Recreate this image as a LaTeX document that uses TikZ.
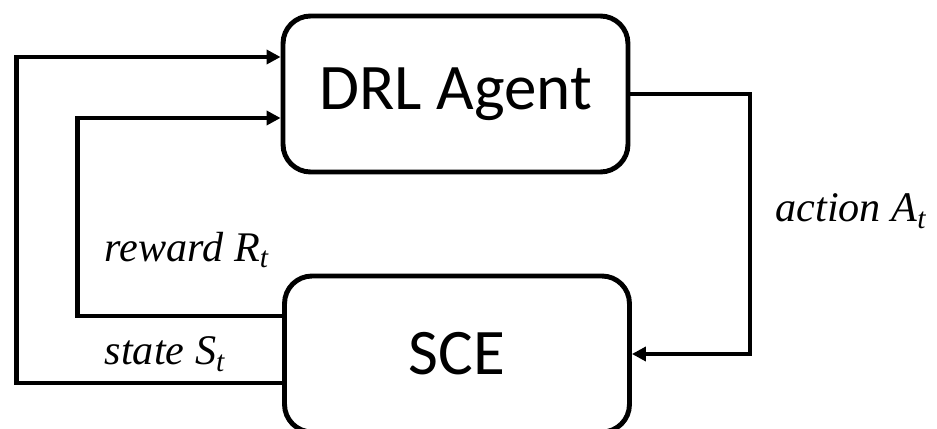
\documentclass[tikz,border=0pt]{standalone}
\usepackage{fontspec}
\newfontfamily\blockfont{Carlito}
\newfontfamily\labelfont{Liberation Serif}
\usetikzlibrary{calc,arrows.meta}

\begin{document}
\begin{tikzpicture}[x=0.02cm, y=-0.02cm, line width=2.8pt,
  >={Triangle[length=0.28cm, width=0.28cm]},
  block/.style={draw, rounded corners=0.55cm, minimum width=6.9cm, minimum height=3.12cm,
    font=\blockfont\fontsize{37}{44}\selectfont},
  lbl/.style={font=\labelfont\itshape\fontsize{24}{28}\selectfont}]
  \useasboundingbox (0,0) rectangle (937,429);
  \clip (0,0) rectangle (937,429);

  % Agent and environment
  \node[block] (agent) at (455.5,94) {DRL Agent};
  \node[block] (sce) at (457,354) {SCE};

  % Action goes round the right side
  \coordinate (turn) at (750,94);
  \draw[->] (agent.east) -- (turn) |- (sce.east);
  \node[lbl] (action) at (851,211) {action A\textsubscript{t}};

  % State and reward come back on the left
  \draw[->] ($(sce.west)+(0,29)$) -| ($(agent.west)+(-264,-37)$) -- ($(agent.west)+(0,-37)$);
  \draw[->] ($(sce.west)+(0,-38)$) -| ($(agent.west)+(-203,24)$) -- ($(agent.west)+(0,24)$);
  \node[lbl] (reward) at (187,250) {reward R\textsubscript{t}};
  \node[lbl] (state) at (165,354) {state S\textsubscript{t}};
\end{tikzpicture}
\end{document}
